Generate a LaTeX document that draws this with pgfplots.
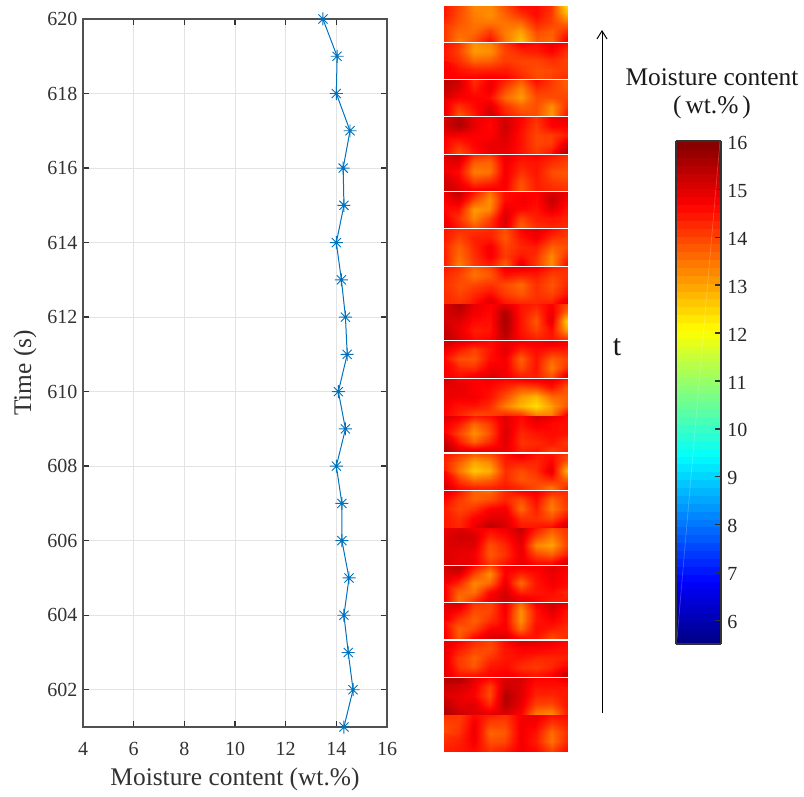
\documentclass[border=0pt]{standalone}
\usepackage{fontspec}
\setmainfont{Liberation Serif}
\usepackage{pgfplots}
\pgfplotsset{compat=1.18}
\usepgfplotslibrary{patchplots}
\usetikzlibrary{arrows.meta}
\definecolor{mblue}{RGB}{0,114,189}
\definecolor{axd}{RGB}{50,50,50}
\pgfdeclareplotmark{ast8}{%
  \pgfpathmoveto{\pgfqpoint{-\pgfplotmarksize}{0pt}}\pgfpathlineto{\pgfqpoint{\pgfplotmarksize}{0pt}}%
  \pgfpathmoveto{\pgfqpoint{0pt}{-\pgfplotmarksize}}\pgfpathlineto{\pgfqpoint{0pt}{\pgfplotmarksize}}%
  \pgfpathmoveto{\pgfqpoint{-0.7\pgfplotmarksize}{-0.7\pgfplotmarksize}}\pgfpathlineto{\pgfqpoint{0.7\pgfplotmarksize}{0.7\pgfplotmarksize}}%
  \pgfpathmoveto{\pgfqpoint{-0.7\pgfplotmarksize}{0.7\pgfplotmarksize}}\pgfpathlineto{\pgfqpoint{0.7\pgfplotmarksize}{-0.7\pgfplotmarksize}}%
  \pgfusepathqstroke}
\pgfplotsset{
  hm/.style={surf, shader=interp, patch type=bilinear, mesh/cols=9, point meta=explicit, forget plot},
}
\newcommand\tfont{\fontsize{20}{24}\selectfont}
\newcommand\lfont{\fontsize{25.4}{29}\selectfont}
\begin{document}
\begin{tikzpicture}[x=1pt,y=1pt]
\path[use as bounding box] (0,0) rectangle (804,796);
\begin{axis}[
  at={(83pt,69pt)}, anchor=south west, scale only axis, width=304pt, height=708pt,
  xmin=4, xmax=16, ymin=601, ymax=620,
  xtick={4,6,...,16}, ytick={602,604,...,620},
  grid=major, grid style={line width=0.8pt, color=black!11},
  tick align=inside, major tick length=6pt,
  tick style={line width=1.4pt, color=axd},
  axis line style={line width=1.1pt, color=axd!85},
  clip=false,
  /pgf/number format/assume math mode=true,
  /pgf/number format/1000 sep={},
  tick label style={font=\tfont, color=axd},
  xticklabel style={yshift=-12pt},
  yticklabel style={xshift=-2pt},
  xlabel={Moisture content (wt.\%)}, ylabel={Time (s)},
  label style={font=\lfont, color=axd},
  xlabel style={yshift=-5pt},
  ylabel style={yshift=4pt},
]
\addplot[mblue, line width=1pt, mark=ast8, mark size=6.5pt, mark options={line width=0.9pt, solid}] coordinates {
(14.30,601)(14.66,602)(14.47,603)(14.30,604)(14.50,605)(14.22,606)(14.22,607)(14.00,608)(14.36,609)(14.08,610)
(14.43,611)(14.36,612)(14.20,613)(14.00,614)(14.30,615)(14.27,616)(14.54,617)(14.00,618)(14.03,619)(13.47,620)};
\end{axis}

\begin{axis}[
  at={(444pt,45pt)}, anchor=south west, scale only axis, width=123.5pt, height=745pt,
  xmin=0, xmax=8, ymin=6, ymax=751, y dir=reverse,
  hide axis,
  colormap/jet, point meta min=5.5, point meta max=16,
  colorbar sampled,
  colorbar style={
    at={(1.878,0.1430)}, anchor=south west, width=45pt, height=503pt,
    samples=65, scale only axis,
    y dir=normal,
    ymin=5.5, ymax=16,
    ytick={6,7,...,16}, xtick=\empty,
    ytick pos=right, yticklabel pos=right,
    tick align=inside, major tick length=6pt,
    tick style={line width=1.4pt, color=axd},
    axis line style={line width=2pt, color=axd},
    /pgf/number format/assume math mode=true,
    yticklabel style={font=\tfont, color=black!85, yshift=-1.5pt, xshift=3pt},
  },
]
\addplot[hm] table[x expr={mod(\coordindex,9)}, y expr={6+floor(\coordindex/9)*8.85}, meta index=0, header=false, row sep=\\] {
14.5\\14.0\\13.3\\13.3\\13.9\\14.6\\14.6\\14.2\\12.3\\
14.5\\13.9\\13.4\\13.2\\13.7\\14.2\\14.6\\14.1\\12.8\\
14.3\\13.8\\13.5\\13.5\\13.5\\13.6\\14.3\\14.0\\13.6\\
14.2\\13.6\\13.6\\14.1\\13.4\\13.0\\13.9\\13.7\\14.3\\
14.2\\13.4\\13.9\\14.6\\13.5\\12.7\\13.7\\13.6\\14.8\\
};
\addplot[hm] table[x expr={mod(\coordindex,9)}, y expr={43.3+floor(\coordindex/9)*8.85}, meta index=0, header=false, row sep=\\] {
14.6\\14.2\\13.2\\13.4\\14.2\\14.8\\14.6\\14.9\\14.6\\
14.5\\14.0\\13.1\\13.2\\14.0\\14.3\\14.4\\14.7\\14.2\\
14.5\\14.2\\13.6\\13.7\\14.1\\14.0\\14.0\\14.2\\14.0\\
14.7\\14.5\\14.3\\14.3\\14.4\\14.1\\13.9\\14.0\\14.1\\
14.8\\14.7\\14.7\\14.8\\14.7\\14.3\\14.0\\14.1\\14.3\\
};
\addplot[hm] table[x expr={mod(\coordindex,9)}, y expr={80.5+floor(\coordindex/9)*8.85}, meta index=0, header=false, row sep=\\] {
15.4\\15.2\\14.2\\14.8\\14.4\\13.8\\14.6\\14.1\\13.7\\
15.3\\15.0\\14.4\\14.9\\14.0\\13.3\\14.2\\14.0\\13.8\\
15.1\\14.7\\14.7\\14.6\\13.6\\13.1\\13.9\\13.9\\14.0\\
15.0\\14.2\\14.6\\15.0\\14.2\\13.7\\13.9\\13.2\\14.2\\
15.0\\13.8\\14.4\\15.2\\14.4\\14.0\\13.9\\13.1\\14.5\\
};
\addplot[hm] table[x expr={mod(\coordindex,9)}, y expr={117.8+floor(\coordindex/9)*8.85}, meta index=0, header=false, row sep=\\] {
15.1\\15.5\\14.9\\14.7\\15.1\\14.7\\14.2\\14.8\\14.9\\
15.1\\15.5\\14.9\\14.6\\15.2\\14.6\\14.1\\14.7\\14.7\\
14.9\\14.8\\14.7\\14.7\\15.1\\14.5\\14.0\\14.1\\14.4\\
14.8\\14.3\\14.7\\14.9\\15.0\\14.5\\14.0\\14.1\\15.0\\
14.7\\13.9\\14.5\\14.9\\14.9\\14.5\\14.1\\14.5\\15.5\\
};
\addplot[hm] table[x expr={mod(\coordindex,9)}, y expr={155+floor(\coordindex/9)*8.85}, meta index=0, header=false, row sep=\\] {
15.0\\15.3\\14.3\\14.1\\14.9\\14.6\\14.7\\14.5\\14.2\\
14.9\\14.9\\13.7\\13.6\\14.8\\14.4\\14.5\\14.2\\14.0\\
14.8\\14.6\\13.4\\13.5\\14.8\\14.2\\14.5\\13.9\\13.8\\
15.0\\14.8\\14.0\\14.2\\14.8\\13.9\\14.4\\14.1\\14.0\\
15.3\\15.0\\14.7\\14.8\\14.7\\13.8\\14.4\\14.3\\14.2\\
};
\addplot[hm] table[x expr={mod(\coordindex,9)}, y expr={192.3+floor(\coordindex/9)*8.85}, meta index=0, header=false, row sep=\\] {
14.9\\15.4\\14.5\\13.6\\14.6\\14.7\\14.7\\15.1\\14.9\\
14.7\\15.0\\13.9\\13.2\\14.6\\14.8\\14.6\\15.3\\14.7\\
14.6\\14.5\\13.1\\13.3\\14.9\\14.6\\14.5\\15.0\\14.5\\
14.7\\14.2\\13.3\\14.0\\15.1\\14.0\\14.4\\14.5\\14.3\\
15.0\\14.4\\13.8\\14.3\\15.0\\13.7\\14.2\\14.3\\14.2\\
};
\addplot[hm] table[x expr={mod(\coordindex,9)}, y expr={229.8+floor(\coordindex/9)*8.85}, meta index=0, header=false, row sep=\\] {
14.5\\14.2\\14.2\\14.3\\13.9\\14.7\\15.0\\14.6\\14.2\\
14.5\\14.0\\14.4\\14.4\\13.8\\14.5\\14.8\\14.2\\14.0\\
14.3\\13.7\\14.3\\14.8\\14.0\\14.3\\14.4\\13.7\\13.9\\
14.4\\13.6\\14.2\\14.8\\14.1\\14.5\\14.2\\13.3\\14.2\\
14.5\\13.4\\14.1\\14.4\\13.7\\14.9\\14.1\\13.2\\14.6\\
};
\addplot[hm] table[x expr={mod(\coordindex,9)}, y expr={267+floor(\coordindex/9)*9.25}, meta index=0, header=false, row sep=\\] {
14.5\\14.2\\13.7\\14.0\\14.9\\15.0\\14.8\\14.4\\14.2\\
14.3\\14.0\\13.5\\13.8\\14.5\\14.3\\14.4\\14.0\\14.2\\
14.2\\13.9\\14.0\\14.2\\13.9\\13.6\\14.2\\13.8\\14.3\\
14.2\\14.0\\14.3\\14.6\\14.1\\13.8\\14.2\\14.0\\14.5\\
14.3\\14.2\\14.5\\15.1\\14.5\\14.3\\14.3\\14.4\\15.1\\
};
\addplot[hm] table[x expr={mod(\coordindex,9)}, y expr={304+floor(\coordindex/9)*8.85}, meta index=0, header=false, row sep=\\] {
15.0\\15.5\\14.9\\14.7\\14.9\\14.5\\14.4\\14.7\\14.0\\
15.1\\15.3\\14.8\\14.6\\15.5\\14.5\\14.1\\14.9\\13.6\\
15.1\\15.0\\14.6\\14.5\\15.6\\14.5\\13.8\\15.0\\12.5\\
15.2\\14.9\\14.4\\14.5\\15.5\\14.5\\14.0\\14.6\\13.0\\
15.4\\15.0\\14.6\\14.7\\15.3\\14.6\\14.4\\14.5\\14.1\\
};
\addplot[hm] table[x expr={mod(\coordindex,9)}, y expr={341.8+floor(\coordindex/9)*8.85}, meta index=0, header=false, row sep=\\] {
15.3\\15.0\\14.8\\14.6\\14.9\\14.8\\14.8\\15.0\\14.8\\
14.9\\14.4\\14.0\\14.5\\15.0\\14.3\\14.6\\14.4\\14.4\\
14.6\\13.9\\13.8\\14.6\\14.8\\13.7\\14.5\\13.7\\14.0\\
14.7\\14.3\\14.2\\14.8\\14.8\\13.9\\14.5\\13.4\\14.2\\
14.8\\14.6\\14.8\\15.1\\14.8\\14.4\\14.4\\13.8\\15.0\\
};
\addplot[hm] table[x expr={mod(\coordindex,9)}, y expr={379+floor(\coordindex/9)*9.25}, meta index=0, header=false, row sep=\\] {
15.2\\14.8\\14.7\\14.8\\14.7\\14.9\\15.0\\15.0\\14.5\\
14.9\\14.9\\14.7\\14.6\\14.3\\13.9\\14.0\\14.5\\13.8\\
14.9\\14.8\\14.8\\14.5\\13.9\\13.1\\12.8\\13.6\\13.7\\
14.9\\14.5\\14.5\\14.2\\13.4\\12.8\\12.4\\13.1\\13.8\\
14.7\\14.3\\13.9\\14.0\\14.3\\14.2\\13.4\\13.4\\14.8\\
};
\addplot[hm] table[x expr={mod(\coordindex,9)}, y expr={416+floor(\coordindex/9)*8.95}, meta index=0, header=false, row sep=\\] {
15.1\\14.9\\14.5\\14.6\\15.0\\14.6\\15.1\\14.9\\14.6\\
14.8\\14.4\\13.6\\14.1\\15.0\\14.5\\14.8\\14.6\\14.5\\
14.8\\14.0\\13.2\\13.9\\15.1\\14.3\\14.5\\14.6\\14.5\\
15.0\\14.4\\13.7\\14.3\\15.0\\14.2\\14.3\\14.5\\14.1\\
15.6\\15.1\\15.0\\15.0\\14.9\\14.4\\14.5\\14.0\\14.4\\
};
\addplot[hm] table[x expr={mod(\coordindex,9)}, y expr={454+floor(\coordindex/9)*8.75}, meta index=0, header=false, row sep=\\] {
14.5\\14.2\\13.8\\14.0\\14.5\\15.0\\14.5\\14.5\\14.1\\
14.4\\13.7\\13.0\\13.3\\14.4\\14.4\\14.3\\14.7\\13.7\\
14.5\\13.5\\12.6\\12.9\\14.2\\13.9\\14.2\\15.0\\12.8\\
14.7\\14.1\\13.5\\13.7\\14.3\\13.8\\14.0\\14.3\\13.7\\
15.2\\14.6\\14.4\\14.4\\14.5\\14.3\\13.9\\13.4\\14.4\\
};
\addplot[hm] table[x expr={mod(\coordindex,9)}, y expr={491+floor(\coordindex/9)*9.25}, meta index=0, header=false, row sep=\\] {
15.1\\14.5\\13.7\\13.6\\14.3\\14.8\\14.8\\14.4\\14.2\\
14.7\\14.1\\13.7\\13.9\\14.3\\13.9\\14.6\\13.6\\14.2\\
14.4\\14.0\\14.2\\14.7\\14.8\\13.6\\14.4\\13.4\\14.1\\
14.4\\14.2\\14.7\\15.0\\15.0\\14.2\\14.2\\13.9\\14.6\\
14.5\\14.3\\14.9\\15.4\\15.1\\14.5\\14.5\\14.6\\15.3\\
};
\addplot[hm] table[x expr={mod(\coordindex,9)}, y expr={528+floor(\coordindex/9)*9.0}, meta index=0, header=false, row sep=\\] {
14.9\\15.0\\14.8\\14.7\\14.9\\15.3\\14.5\\13.9\\14.2\\
15.0\\15.2\\15.1\\14.3\\14.6\\15.1\\14.0\\13.4\\14.1\\
15.1\\15.0\\15.0\\13.9\\14.3\\15.0\\13.3\\13.0\\14.0\\
15.0\\14.9\\14.8\\13.8\\14.2\\14.9\\14.0\\13.7\\14.4\\
15.1\\14.9\\14.8\\14.1\\14.5\\14.9\\14.6\\14.6\\15.2\\
};
\addplot[hm] table[x expr={mod(\coordindex,9)}, y expr={566+floor(\coordindex/9)*8.85}, meta index=0, header=false, row sep=\\] {
15.1\\15.5\\14.6\\14.0\\14.8\\14.9\\14.8\\15.0\\14.8\\
15.0\\15.0\\14.0\\13.2\\14.7\\14.3\\14.6\\14.9\\14.6\\
14.9\\14.3\\13.3\\13.6\\14.9\\13.6\\14.5\\14.8\\14.6\\
14.8\\13.7\\13.5\\14.6\\15.1\\14.3\\14.5\\14.6\\14.3\\
14.9\\13.5\\14.2\\14.9\\15.2\\15.0\\14.7\\14.4\\14.5\\
};
\addplot[hm] table[x expr={mod(\coordindex,9)}, y expr={603+floor(\coordindex/9)*8.95}, meta index=0, header=false, row sep=\\] {
15.0\\15.2\\14.2\\14.0\\14.8\\13.7\\14.8\\15.2\\14.9\\
14.9\\14.6\\13.9\\14.0\\14.8\\13.2\\14.5\\15.0\\14.5\\
14.9\\14.1\\13.7\\14.2\\14.7\\13.2\\14.5\\14.7\\14.4\\
14.7\\13.7\\14.0\\14.7\\14.8\\13.6\\14.6\\14.4\\14.2\\
14.9\\13.8\\14.7\\15.1\\15.1\\14.6\\14.5\\13.9\\14.3\\
};
\addplot[hm] table[x expr={mod(\coordindex,9)}, y expr={641+floor(\coordindex/9)*8.75}, meta index=0, header=false, row sep=\\] {
15.1\\14.7\\14.3\\14.0\\14.6\\15.1\\15.0\\14.9\\14.6\\
15.0\\14.4\\14.0\\13.9\\14.5\\14.7\\14.7\\14.6\\14.5\\
15.0\\14.1\\13.7\\14.2\\14.5\\14.5\\14.3\\14.3\\14.4\\
15.0\\14.1\\13.8\\14.5\\14.6\\14.2\\14.1\\14.3\\14.7\\
15.0\\14.5\\14.5\\14.7\\14.8\\14.6\\14.5\\14.7\\15.3\\
};
\addplot[hm] table[x expr={mod(\coordindex,9)}, y expr={678+floor(\coordindex/9)*9.25}, meta index=0, header=false, row sep=\\] {
15.5\\15.6\\15.0\\14.7\\15.1\\15.1\\14.7\\14.7\\14.9\\
15.2\\15.1\\14.8\\14.0\\15.2\\15.0\\14.5\\14.5\\14.5\\
15.0\\14.9\\14.7\\13.9\\15.5\\15.0\\14.3\\14.3\\14.5\\
15.2\\15.0\\15.0\\14.3\\15.4\\14.9\\14.0\\13.9\\14.5\\
15.6\\15.2\\15.0\\15.0\\15.0\\14.7\\13.4\\13.2\\14.4\\
};
\addplot[hm] table[x expr={mod(\coordindex,9)}, y expr={715+floor(\coordindex/9)*9.0}, meta index=0, header=false, row sep=\\] {
14.2\\14.1\\14.6\\14.4\\14.2\\14.8\\14.9\\14.6\\14.6\\
14.0\\14.1\\14.8\\14.0\\14.0\\14.8\\14.7\\14.1\\14.4\\
13.9\\14.2\\14.9\\13.7\\13.8\\14.8\\14.5\\13.6\\14.2\\
14.1\\14.4\\14.8\\13.9\\14.0\\14.8\\14.4\\13.5\\14.3\\
14.4\\14.5\\14.6\\14.2\\14.4\\14.8\\14.6\\14.0\\14.6\\
};
\end{axis}

\draw[line width=1pt, -{Straight Barb[length=8pt,width=10pt]}] (602,83) -- (602,766);
\draw[white, opacity=0.25, line width=0.6pt] (677,157) -- (720,655);
\node[font=\fontsize{30}{34}\selectfont, color=black!90] at (617,449) {t};
\node[font=\lfont, color=black!90, align=center, anchor=center] at (712,702) {Moisture content\\[-1pt](\kern4pt wt.\%\kern4pt)};
\end{tikzpicture}
\end{document}
